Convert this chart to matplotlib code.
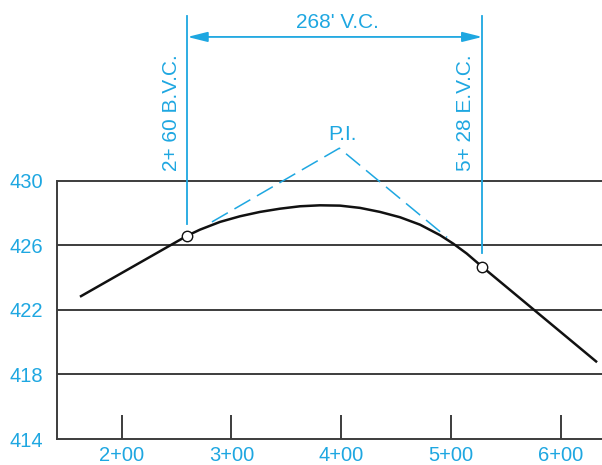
import matplotlib
matplotlib.use("Agg")
import matplotlib.pyplot as plt

plt.rcParams['font.family'] = ['Liberation Sans', 'DejaVu Sans']

BLUE = '#1ea7e1'
GRID = '#3c3c3c'

# Stations (in hundreds of feet) and elevations (ft)
station_ticks = [2, 3, 4, 5, 6]
station_labels = ['2+00', '3+00', '4+00', '5+00', '6+00']
elev_ticks = [414, 418, 422, 426, 430]
elev_labels = ['414', '418', '422', '426', '430']
grid_elev = [418, 422, 426, 430]

# Profile: incoming grade, vertical curve, outgoing grade
profile_station = [1.622, 2.599, 2.714, 2.896, 3.078, 3.260, 3.442, 3.624, 3.806,
                   3.988, 4.170, 4.352, 4.534, 4.716, 4.898, 5.019, 5.141, 5.283,
                   6.327]
profile_elev = [422.82, 426.61, 426.98, 427.46, 427.81, 428.08, 428.28, 428.43, 428.49,
                428.47, 428.33, 428.08, 427.75, 427.29, 426.64, 426.11, 425.50, 424.67,
                418.76]

# BVC / EVC points
bvc_station, bvc_elev = 2.60, 426.61
evc_station, evc_elev = 5.283, 424.67

# Tangent lines to the P.I. (dashed)
tangent_station = [2.823, 3.982, 4.962]
tangent_elev = [427.46, 432.03, 426.50]

vc_label = "268' V.C."
bvc_label = "2+ 60 B.V.C."
evc_label = "5+ 28 E.V.C."
pi_label = "P.I."

fig = plt.figure(figsize=(6.02, 4.65), dpi=100)
ax = fig.add_axes([57/602, 26/465, 545/602, 439/465])
ax.set_xlim(1.413, 6.372)
ax.set_ylim(414, 441.22)

for s in ['top', 'right']:
    ax.spines[s].set_visible(False)
for s in ['left', 'bottom']:
    ax.spines[s].set_color(GRID)
    ax.spines[s].set_linewidth(1.4)
ax.spines['left'].set_bounds(414, 430)

for g in grid_elev:
    ax.axhline(g, color=GRID, lw=1.4, zorder=1)

ax.set_xticks(station_ticks)
ax.set_xticklabels(station_labels)
ax.set_yticks(elev_ticks)
ax.set_yticklabels(elev_labels)
ax.tick_params(axis='x', direction='in', length=17, width=1.4, color=GRID,
               labelcolor=BLUE, labelsize=14.5, pad=5)
ax.tick_params(axis='y', length=0, labelcolor=BLUE, labelsize=14.5, pad=10)

# profile
ax.plot(profile_station, profile_elev, color='#111111', lw=1.8, zorder=3,
        solid_capstyle='butt', solid_joinstyle='round')
ax.plot([bvc_station, evc_station], [bvc_elev, evc_elev], 'o', ms=7.5,
        mfc='white', mec='#111111', mew=1.0, zorder=4)

# tangents
ax.plot(tangent_station, tangent_elev, color=BLUE, lw=1.1, dashes=(12, 5), zorder=2)

# vertical extension lines
ax.plot([bvc_station, bvc_station], [440.23, 427.33], color=BLUE, lw=1.3, zorder=2)
ax.plot([evc_station, evc_station], [440.23, 425.52], color=BLUE, lw=1.3, zorder=2)

# dimension arrow
ax.annotate('', xy=(evc_station, 438.93), xytext=(bvc_station, 438.93),
            arrowprops=dict(arrowstyle='<|-|>,head_length=1.2,head_width=0.3',
                            color=BLUE, lw=1.3, shrinkA=0, shrinkB=0))
ax.text((bvc_station + evc_station) / 2 + 0.02, 439.80, vc_label, color=BLUE,
        fontsize=15, ha='center', va='center')

ax.text(2.459, 430.62, bvc_label, color=BLUE, fontsize=15, rotation=90,
        ha='center', va='bottom')
ax.text(5.126, 430.62, evc_label, color=BLUE, fontsize=15, rotation=90,
        ha='center', va='bottom')
ax.text(4.011, 432.85, pi_label, color=BLUE, fontsize=15, ha='center', va='center')

fig.savefig('out.png', dpi=100)
